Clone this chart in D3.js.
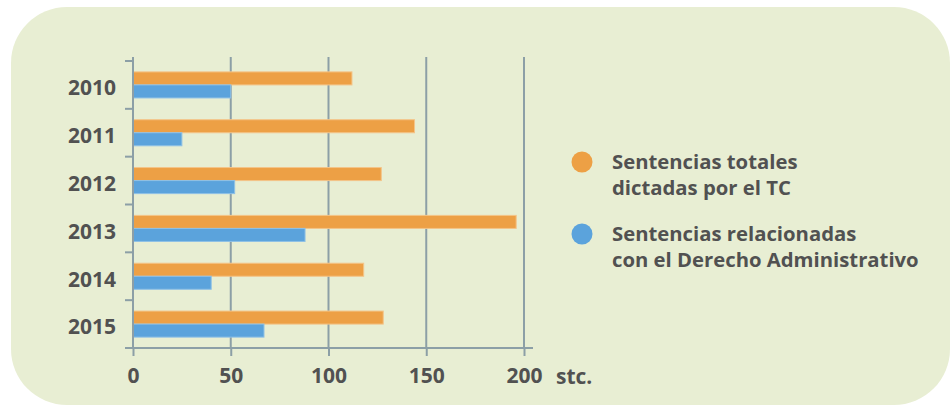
<!DOCTYPE html>
<html>
<head>
<meta charset="utf-8">
<script src="https://cdn.jsdelivr.net/npm/d3@7"></script>
<style>
  body { margin: 0; background: #fff; }
  text { font-family: "Open Sans", "DejaVu Sans", sans-serif; font-weight: 700; fill: #515151; }
</style>
</head>
<body>
<div id="chart"></div>
<script>
var years = ["2010", "2011", "2012", "2013", "2014", "2015"];
var totales = [112, 144, 127, 196, 118, 128];
var administrativo = [50, 25, 52, 88, 40, 67];
var xTicks = [0, 50, 100, 150, 200];
var seriesNames = ["Sentencias totales|dictadas por el TC", "Sentencias relacionadas|con el Derecho Administrativo"];
var seriesColors = ["#eda045", "#5ba3dc"];
var strokeColors = ["#f4c488", "#8ec0e6"];

var W = 951, H = 407;

var svg = d3.select("#chart").append("svg")
    .attr("width", W)
    .attr("height", H);

// rounded panel behind everything
svg.append("rect")
    .attr("x", 11).attr("y", 7)
    .attr("width", 939).attr("height", 398)
    .attr("rx", 56).attr("ry", 56)
    .style("fill", "#e8eed3");

var xScale = d3.scaleLinear()
    .domain([0, 200])
    .range([133, 524]);

var yScale = d3.scaleBand()
    .domain(years)
    .range([61, 348])
    .paddingInner(0.455)
    .paddingOuter(0.2275);

var ySub = d3.scaleBand()
    .domain([0, 1])
    .range([0, yScale.bandwidth()]);

var step = yScale.step();

// vertical gridlines
svg.selectAll(".grid")
    .data(xTicks.slice(1))
    .enter().append("line")
    .attr("class", "grid")
    .attr("x1", function(d) { return xScale(d); })
    .attr("x2", function(d) { return xScale(d); })
    .attr("y1", 57)
    .attr("y2", 348)
    .style("stroke", "#8c9fa6")
    .style("stroke-width", 2);

// bars
var rows = years.map(function(y, i) { return {year: y, vals: [totales[i], administrativo[i]]}; });

var groups = svg.selectAll(".row")
    .data(rows)
    .enter().append("g")
    .attr("class", "row")
    .attr("transform", function(d) { return "translate(0," + yScale(d.year) + ")"; });

groups.selectAll("rect")
    .data(function(d) { return d.vals; })
    .enter().append("rect")
    .attr("x", xScale(0))
    .attr("y", function(d, i) { return ySub(i); })
    .attr("width", function(d) { return xScale(d) - xScale(0); })
    .attr("height", ySub.bandwidth())
    .style("fill", function(d, i) { return seriesColors[i]; })
    .style("stroke", function(d, i) { return strokeColors[i]; })
    .style("stroke-width", 1);

// x axis
var xAxis = d3.axisBottom(xScale)
    .tickValues(xTicks)
    .tickSize(8)
    .tickPadding(8)
    .tickSizeOuter(0);

var gx = svg.append("g")
    .attr("transform", "translate(0,348)")
    .call(xAxis);
gx.select(".domain").remove();
gx.selectAll(".tick line").style("stroke", "#8c9fa6").style("stroke-width", 2);
gx.selectAll(".tick text").style("font-size", "21px").style("font-family", null).attr("dy", "0.9em");

svg.append("line")
    .attr("x1", 125).attr("x2", 533)
    .attr("y1", 348).attr("y2", 348)
    .style("stroke", "#8c9fa6").style("stroke-width", 2);

svg.append("text")
    .attr("x", 556).attr("y", 384)
    .style("font-size", "21px")
    .text("stc.");

// y axis line and ticks at band boundaries
svg.append("line")
    .attr("x1", 133).attr("x2", 133)
    .attr("y1", 57).attr("y2", 349)
    .style("stroke", "#8c9fa6").style("stroke-width", 2);

svg.selectAll(".ytick")
    .data(years)
    .enter().append("line")
    .attr("class", "ytick")
    .attr("x1", 125).attr("x2", 133)
    .attr("y1", function(d) { return yScale(d) - step * 0.2275; })
    .attr("y2", function(d) { return yScale(d) - step * 0.2275; })
    .style("stroke", "#8c9fa6").style("stroke-width", 2);

svg.selectAll(".ylabel")
    .data(years)
    .enter().append("text")
    .attr("class", "ylabel")
    .attr("x", 116)
    .attr("y", function(d) { return yScale(d) + yScale.bandwidth() / 2 + 3; })
    .attr("dy", "0.35em")
    .attr("text-anchor", "end")
    .style("font-size", "21px")
    .text(function(d) { return d; });

// legend
var legendY = [162, 234];
var legend = svg.selectAll(".legend")
    .data(seriesNames)
    .enter().append("g")
    .attr("class", "legend")
    .attr("transform", function(d, i) { return "translate(582," + legendY[i] + ")"; });

legend.append("circle")
    .attr("r", 10.5)
    .style("fill", function(d, i) { return seriesColors[i]; });

legend.append("text")
    .attr("x", 30)
    .attr("y", 7)
    .style("font-size", "20.3px")
    .selectAll("tspan")
    .data(function(d) { return d.split("|"); })
    .enter().append("tspan")
    .attr("x", 30)
    .attr("dy", function(d, i) { return i ? 25.7 : 0; })
    .text(function(d) { return d; });
</script>
</body>
</html>
